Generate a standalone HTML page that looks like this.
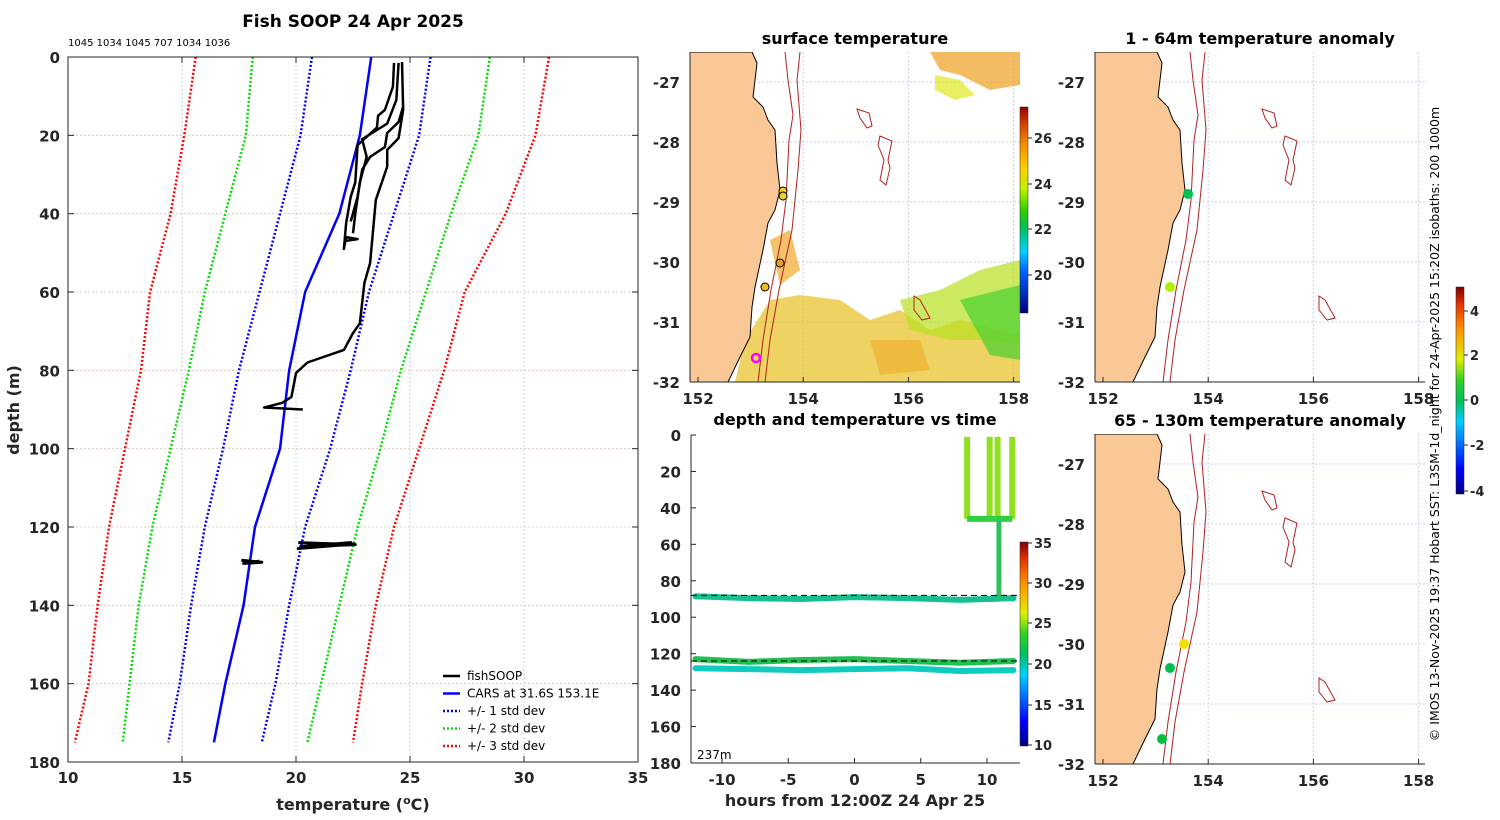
<!DOCTYPE html>
<html><head><meta charset="utf-8"><style>
body{margin:0;background:#fff;width:1500px;height:820px;overflow:hidden;font-family:"DejaVu Sans","Liberation Sans",sans-serif}
svg{position:absolute;left:0;top:0}
</style></head><body>
<svg id="fig" width="1500" height="820" viewBox="0 0 1500 820" xmlns="http://www.w3.org/2000/svg">
<defs>
<linearGradient id="jet" x1="0" y1="1" x2="0" y2="0">
<stop offset="0" stop-color="#00007f"/><stop offset="0.12" stop-color="#0000ff"/><stop offset="0.35" stop-color="#00d0ff"/><stop offset="0.45" stop-color="#00c060"/><stop offset="0.55" stop-color="#30d020"/><stop offset="0.65" stop-color="#e0f000"/><stop offset="0.8" stop-color="#ff9000"/><stop offset="0.92" stop-color="#e03000"/><stop offset="1" stop-color="#800000"/>
</linearGradient>
<linearGradient id="sstbar" x1="0" y1="1" x2="0" y2="0">
<stop offset="0" stop-color="#00007f"/><stop offset="0.2" stop-color="#0060ff"/><stop offset="0.3" stop-color="#00d0ff"/><stop offset="0.42" stop-color="#00c050"/><stop offset="0.5" stop-color="#30d000"/><stop offset="0.6" stop-color="#c0f000"/><stop offset="0.7" stop-color="#ffd000"/><stop offset="0.82" stop-color="#f09000"/><stop offset="0.92" stop-color="#d04000"/><stop offset="1" stop-color="#900000"/>
</linearGradient>
</defs>
<g id="g"></g>
</svg>
<script>
// ===== Profile chart data =====
const depthLevels=[0,20,40,60,80,100,120,140,160,175];
const carsMean=[23.3,22.8,21.9,20.4,19.7,19.3,18.2,17.7,16.9,16.4];
const sd1Low=[20.7,20.2,19.3,18.4,17.5,16.8,16.0,15.4,14.9,14.4];
const sd1High=[25.9,25.4,24.3,23.2,22.4,21.5,20.4,19.7,19.1,18.5];
const sd2Low=[18.1,17.8,16.9,16.0,15.3,14.5,13.7,13.1,12.7,12.4];
const sd2High=[28.5,28.0,26.8,25.7,24.6,23.7,22.7,21.9,21.1,20.5];
const sd3Low=[15.6,15.1,14.5,13.6,13.2,12.5,11.8,11.3,10.9,10.3];
const sd3High=[31.1,30.5,29.2,27.4,26.5,25.4,24.3,23.5,22.9,22.5];
const profATemp=[24.65,24.7,24.5,24.0,24.0,23.5,23.4,23.25,23.0,22.8,22.5,22.1,20.5,20.0,19.8,19.4,18.6,20.3];
const profADepth=[1.3,13.5,20.7,23.7,28,36.5,43,52.6,57.7,68,70.5,74.8,78,80.7,86.8,88.3,89.5,90];
const profBTemp=[24.3,24.25,23.9,23.6,23.55,22.7,22.6,22.4,22.2,22.1,22.2,22.7,22.1];
const profBDepth=[1.5,7.6,13.5,15,18,22.5,32,35.7,42.4,49,46,46.5,47];
const profCTemp=[24.5,24.4,24.0,22.9,23.1,22.8,22.6,22.5];
const profCDepth=[1.5,11,17,21,25.5,32,40,45];
const profDTemp=[24.7,24.5,24.0,23.9,23.25,22.9,22.7,22.4];
const profDDepth=[12.7,16.6,19.4,23,25.5,28.8,35.7,42];
const scrib1Temp=[20.1,22.6,20.2,22.4,20.1,22.6];
const scrib1Depth=[124,124.5,125,124,125.5,124.3];
const scrib2Temp=[17.6,18.5,17.7,18.4];
const scrib2Depth=[128.5,129,129.3,128.7];
const xTicks=[10,15,20,25,30,35];
const yTicks=[0,20,40,60,80,100,120,140,160,180];
// ===== time plot data =====
const tHours=[-12,-8,-4,0,4,8,12];
const band1Depth=[88.5,89.5,90,89,89.5,90.5,89.5];
const band2Depth=[123,124.5,123.5,123,124,125,124];
const band3Depth=[128,128.5,129,128.5,128,129.5,129];
const spikeHours=[8.5,10.2,10.8,11.9];
const tTicks=[-10,-5,0,5,10];
const dTicks=[0,20,40,60,80,100,120,140,160,180];
const lonTicks=[152,154,156,158];
const latTicks=[-27,-28,-29,-30,-31,-32];

const NS="http://www.w3.org/2000/svg";
const G=document.getElementById('g');
function mk(tag,attrs,parent){const e=document.createElementNS(NS,tag);for(const k in attrs)e.setAttribute(k,attrs[k]);(parent||G).appendChild(e);return e;}
function txt(x,y,s,attrs,parent){const e=mk('text',Object.assign({x:x,y:y},attrs||{}),parent);e.textContent=s;return e;}

// ===== profile chart =====
const P={x0:68,x1:638,y0:57,y1:762};
const px=t=>P.x0+(t-10)/25*(P.x1-P.x0);
const py=d=>P.y0+d/180*(P.y1-P.y0);
const prof=mk('g',{});


xTicks.forEach(t=>{if(t>10&&t<35){const l=mk('line',{x1:px(t),x2:px(t),y1:P.y0,y2:P.y1,stroke:'#c8d0ec','stroke-dasharray':'2,2','stroke-width':1},prof);}});
yTicks.forEach(d=>{if(d>0&&d<180){const l=mk('line',{x1:P.x0,x2:P.x1,y1:py(d),y2:py(d),stroke:'#e0c8c0','stroke-dasharray':'2,2','stroke-width':1},prof);}});
function pl(ts,ds,color,w,dash,name,parent){const p=mk('polyline',{points:ts.map((t,i)=>px(t)+','+py(ds[i])).join(' '),fill:'none',stroke:color,'stroke-width':w,'stroke-linejoin':'round'},parent||prof);if(dash)p.setAttribute('stroke-dasharray',dash);return p;}
pl(sd3Low,depthLevels,'#ff0000',2.5,'2,2','std3-low-line');
pl(sd3High,depthLevels,'#ff0000',2.5,'2,2','std3-high-line');
pl(sd2Low,depthLevels,'#00dd00',2.5,'2,2','std2-low-line');
pl(sd2High,depthLevels,'#00dd00',2.5,'2,2','std2-high-line');
pl(sd1Low,depthLevels,'#0000ff',2.5,'2,2','std1-low-line');
pl(sd1High,depthLevels,'#0000ff',2.5,'2,2','std1-high-line');
pl(carsMean,depthLevels,'#0000ff',2.5,null,'cars-line');
pl(profATemp,profADepth,'#000',2.5,null,'fishsoop-profile-a');
pl(profBTemp,profBDepth,'#000',2.5,null,'fishsoop-profile-b');
pl(profCTemp,profCDepth,'#000',2.5,null,'fishsoop-profile-c');
pl(profDTemp,profDDepth,'#000',2.5,null,'fishsoop-profile-d');
pl(scrib1Temp,scrib1Depth,'#000',3,null,'fishsoop-segment-124m');
pl(scrib2Temp,scrib2Depth,'#000',3,null,'fishsoop-segment-129m');
mk('rect',{x:P.x0,y:P.y0,width:P.x1-P.x0,height:P.y1-P.y0,fill:'none',stroke:'#262626','stroke-width':1},prof);
xTicks.forEach(t=>{mk('line',{x1:px(t),x2:px(t),y1:P.y1,y2:P.y1-6,stroke:'#262626'},prof);mk('line',{x1:px(t),x2:px(t),y1:P.y0,y2:P.y0+6,stroke:'#262626'},prof);const e=txt(px(t),P.y1+21,String(t),{'font-size':15,'font-weight':'bold','text-anchor':'middle',fill:'#262626'},prof);});
yTicks.forEach(d=>{mk('line',{x1:P.x0,x2:P.x0+6,y1:py(d),y2:py(d),stroke:'#262626'},prof);mk('line',{x1:P.x1,x2:P.x1-6,y1:py(d),y2:py(d),stroke:'#262626'},prof);const e=txt(P.x0-8,py(d)+6,String(d),{'font-size':15,'font-weight':'bold','text-anchor':'end',fill:'#262626'},prof);});
let e;
e=txt(353,27,'Fish SOOP 24 Apr 2025',{'font-size':17,'font-weight':'bold','text-anchor':'middle',fill:'#000'},prof);
e=txt(68,46,'1045 1034 1045 707 1034 1036',{'font-size':10,fill:'#000'},prof);
e=txt(353,810,'',{'font-size':16,'font-weight':'bold','text-anchor':'middle',fill:'#262626'},prof);e.innerHTML='temperature (<tspan dy="-6" font-size="11">o</tspan><tspan dy="6">C)</tspan>';
e=txt(0,0,'depth (m)',{'font-size':16,'font-weight':'bold','text-anchor':'middle',fill:'#262626',transform:'translate(19,410) rotate(-90)'},prof);
const leg=mk('g',{},prof);
const legItems=[['fishSOOP','#000',null],['CARS at 31.6S 153.1E','#0000ff',null],['+/- 1 std dev','#0000ff','2,2'],['+/- 2 std dev','#00dd00','2,2'],['+/- 3 std dev','#ff0000','2,2']];
legItems.forEach((it,i)=>{const y=676+i*17.5;const l=mk('line',{x1:443,x2:460,y1:y,y2:y,stroke:it[1],'stroke-width':2.5},leg);if(it[2])l.setAttribute('stroke-dasharray',it[2]);const t=txt(467,y+4,it[0],{'font-size':12,fill:'#000'},leg);});

// ===== maps =====
const coast=[[752,52],[757,63],[755,80],[753,97],[763,107],[768,120],[775,130],[777,163],[780,190],[775,210],[768,223],[763,250],[755,287],[752,307],[750,337],[740,357],[728,382]];
const iso1=[[785,52],[788,80],[793,115],[789,140],[786,200],[781,240],[771,290],[763,340],[758,382]];
const iso2=[[800,52],[797,80],[801,130],[798,170],[792,230],[779,290],[770,340],[765,382]];
const seamounts=[[[857,109],[869,113],[872,126],[867,128],[860,118]],[[880,136],[892,141],[888,160],[890,168],[886,185],[880,180],[884,160],[878,145]],[[914,296],[920,300],[930,318],[922,320],[914,310]]];
function drawMap(dx,dy,title,name,withSST,markers){
  const g=mk('g',{});
  const X0=690+dx,Y0=52+dy,W=330,H=330;
  const cp=mk('clipPath',{id:'cp'+name},g);mk('rect',{x:X0,y:Y0,width:W,height:H},cp);
  const inner=mk('g',{'clip-path':'url(#cp'+name+')'},g);
  const lonX=l=>698+dx+(l-152)*52.6;const latY=l=>82+dy+(-27-l)*60;
  lonTicks.forEach(l=>mk('line',{x1:lonX(l),x2:lonX(l),y1:Y0,y2:Y0+H,stroke:'#c8d0ec','stroke-dasharray':'2,2'},inner));
  latTicks.forEach(l=>mk('line',{x1:X0,x2:X0+W,y1:latY(l),y2:latY(l),stroke:'#c8d0ec','stroke-dasharray':'2,2'},inner));
  if(withSST){
    const sst=[[['#f0a020'],[[930,52],[1020,52],[1020,85],[990,90],[960,75],[940,70]]],[['#e0e820'],[[935,75],[960,80],[975,95],[955,100],[935,90]]],
      [['#e8c020'],[[770,300],[800,295],[840,300],[870,320],[900,310],[930,330],[960,320],[1000,330],[1020,335],[1020,382],[735,382],[745,340]]],
      [['#b8e020'],[[900,300],[940,290],[980,270],[1020,260],[1020,345],[990,340],[950,340],[910,330]]],
      [['#48d030'],[[960,300],[1020,285],[1020,360],[990,355]]],
      [['#f0a828'],[[770,240],[790,230],[800,270],[780,285]]],
      [['#f0b030'],[[870,340],[920,340],[930,370],[880,375]]]];
    sst.forEach(s=>{const p=mk('polygon',{points:s[1].map(q=>(q[0]+dx)+','+(q[1]+dy)).join(' '),fill:s[0][0],opacity:0.7},inner);});
  }
  const land=mk('polygon',{points:[[X0,Y0]].concat(coast.map(q=>[q[0]+dx,q[1]+dy])).concat([[X0,Y0+H]]).map(q=>q.join(',')).join(' '),fill:'#fac896',stroke:'#000','stroke-width':1},inner);
  
  [iso1,iso2].forEach(iso=>{const p=mk('polyline',{points:iso.map(q=>(q[0]+dx)+','+(q[1]+dy)).join(' '),fill:'none',stroke:'#b02020','stroke-width':1},inner);});
  seamounts.forEach(sm=>{const p=mk('polygon',{points:sm.map(q=>(q[0]+dx)+','+(q[1]+dy)).join(' '),fill:'none',stroke:'#b02020','stroke-width':1},inner);});
  markers.forEach(m=>{const c=mk('circle',{cx:m[0],cy:m[1],r:m[3]||4,fill:m[2],stroke:m[4]||'none','stroke-width':m[5]||1},inner);});
  mk('line',{x1:X0,x2:X0,y1:Y0,y2:Y0+H,stroke:'#262626'},g);mk('line',{x1:X0,x2:X0+W,y1:Y0+H,y2:Y0+H,stroke:'#262626'},g);
  lonTicks.forEach(l=>{mk('line',{x1:lonX(l),x2:lonX(l),y1:Y0+H,y2:Y0+H-5,stroke:'#262626'},g);const t=txt(lonX(l),Y0+H+22,String(l),{'font-size':15,'font-weight':'bold','text-anchor':'middle',fill:'#262626'},g);});
  latTicks.forEach(l=>{const t=txt(X0-10,latY(l)+6,String(l),{'font-size':15,'font-weight':'bold','text-anchor':'end',fill:'#262626'},g);});
  const t=txt(X0+W/2,Y0-8,title,{'font-size':16,'font-weight':'bold','text-anchor':'middle',fill:'#000'},g);
}
drawMap(0,0,'surface temperature','sst-map',true,[[783,191,'#f0d020',4,'#000'],[783,196,'#f0d020',4,'#000'],[780,263,'#f0a020',4,'#000'],[765,287,'#f0c020',4,'#000'],[756,358,'none',4,'#ff00ff',2.5]]);
drawMap(405,0,'1 - 64m temperature anomaly','anomaly-map-shallow',false,[[1188,194,'#00c050',5],[1170,287,'#b0f000',5]]);
drawMap(405,382,'65 - 130m temperature anomaly','anomaly-map-deep',false,[[1184,644,'#f0e000',5],[1170,668,'#00c050',5],[1162,739,'#00c040',5]]);

// colorbars
function cbar(x,y,h,grad,labels,name){const g=mk('g',{});mk('rect',{x:x,y:y,width:8,height:h,fill:'url(#'+grad+')',stroke:'#262626','stroke-width':0.5},g);labels.forEach(l=>{mk('line',{x1:x+8,x2:x+12,y1:l[1],y2:l[1],stroke:'#262626'},g);txt(x+14,l[1]+5,l[0],{'font-size':13,'font-weight':'bold',fill:'#262626'},g);});}
cbar(1020,107,206,'sstbar',[['26',138],['24',184],['22',229],['20',275]],'sst-colorbar');
cbar(1456,287,207,'jet',[['4',311],['2',355],['0',400],['-2',445],['-4',491]],'anomaly-colorbar');
cbar(1020,542,204,'jet',[['35',543],['30',583],['25',623],['20',664],['15',705],['10',745]],'time-colorbar');

// ===== time plot =====
const T={x0:691,x1:1020,y0:435,y1:763};
const tx=h=>722+(h+10)*13.25;
const ty=d=>T.y0+d/180*(T.y1-T.y0);
const tp=mk('g',{});
function band(ds,color,name){const p=mk('polyline',{points:tHours.map((h,i)=>tx(h)+','+ty(ds[i])).join(' '),fill:'none',stroke:color,'stroke-width':6,'stroke-linecap':'round'},tp);}
band(band1Depth,'#18c090','band-90m');
band(band2Depth,'#20c050','band-124m');
band(band3Depth,'#10ccc0','band-128m');
spikeHours.forEach((h,i)=>{const p=mk('line',{x1:tx(h),x2:tx(h),y1:ty(1),y2:ty(46),stroke:'#90e020','stroke-width':6},tp);});
mk('line',{x1:tx(8.5),x2:tx(11.9),y1:ty(46),y2:ty(46),stroke:'#30d040','stroke-width':6},tp);
mk('line',{x1:tx(10.9),x2:tx(10.9),y1:ty(46),y2:ty(89),stroke:'#30c060','stroke-width':5},tp);
mk('line',{x1:T.x0,x2:T.x1,y1:ty(88),y2:ty(88),stroke:'#000','stroke-dasharray':'6,4','stroke-width':1},tp);
mk('line',{x1:T.x0,x2:T.x1,y1:ty(124),y2:ty(124),stroke:'#000','stroke-dasharray':'6,4','stroke-width':1},tp);
mk('line',{x1:T.x0,x2:T.x0,y1:T.y0,y2:T.y1,stroke:'#262626'},tp);mk('line',{x1:T.x0,x2:T.x1,y1:T.y1,y2:T.y1,stroke:'#262626'},tp);
tTicks.forEach(h=>{mk('line',{x1:tx(h),x2:tx(h),y1:T.y1,y2:T.y1-5,stroke:'#262626'},tp);const t=txt(tx(h),T.y1+22,String(h),{'font-size':15,'font-weight':'bold','text-anchor':'middle',fill:'#262626'},tp);});
dTicks.forEach(d=>{mk('line',{x1:T.x0,x2:T.x0+5,y1:ty(d),y2:ty(d),stroke:'#262626'},tp);const t=txt(T.x0-10,ty(d)+6,String(d),{'font-size':15,'font-weight':'bold','text-anchor':'end',fill:'#262626'},tp);});
e=txt(855,425,'depth and temperature vs time',{'font-size':16,'font-weight':'bold','text-anchor':'middle',fill:'#000'},tp);
e=txt(855,806,'hours from 12:00Z 24 Apr 25',{'font-size':16,'font-weight':'bold','text-anchor':'middle',fill:'#262626'},tp);
e=txt(697,759,'237m',{'font-size':12,fill:'#000'},tp);

e=txt(0,0,'© IMOS 13-Nov-2025 19:37 Hobart SST: L3SM-1d_night for 24-Apr-2025 15:20Z isobaths: 200  1000m',{'font-size':12.5,'text-anchor':'middle',fill:'#000',transform:'translate(1439,424) rotate(-90)'});

</script>
</body></html>
